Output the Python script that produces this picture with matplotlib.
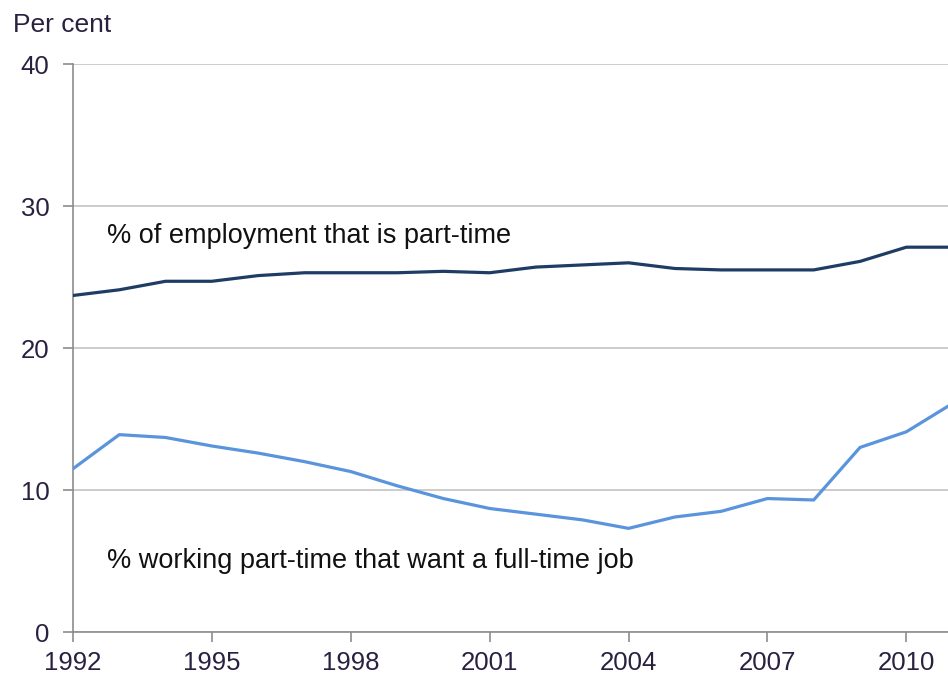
import matplotlib
matplotlib.use("Agg")
import matplotlib.pyplot as plt

plt.rcParams["font.family"] = ["Liberation Sans", "DejaVu Sans"]

years = list(range(1992, 2012))
part_time_share = [23.7, 24.1, 24.7, 24.7, 25.1, 25.3, 25.3, 25.3, 25.4, 25.3,
                   25.7, 25.85, 26.0, 25.6, 25.5, 25.5, 25.5, 26.1, 27.1, 27.1]
want_full_time = [11.5, 13.9, 13.7, 13.1, 12.6, 12.0, 11.3, 10.3, 9.4, 8.7,
                  8.3, 7.9, 7.3, 8.1, 8.5, 9.4, 9.3, 13.0, 14.1, 16.1]
x_ticks = [1992, 1995, 1998, 2001, 2004, 2007, 2010]
y_ticks = [0, 10, 20, 30, 40]

fig = plt.figure(figsize=(9.48, 6.78), dpi=100)
ax = fig.add_axes([0.077, 0.0678, 0.923, 0.8378])

ax.plot(years, part_time_share, color="#1f3c64", linewidth=2.3, zorder=3)
ax.plot(years, want_full_time, color="#5a94dc", linewidth=2.3, zorder=3)

ax.set_xlim(1992, 2010.9)
ax.set_ylim(0, 40)
ax.set_xticks(x_ticks)
ax.set_yticks(y_ticks)
ax.tick_params(axis="both", labelsize=18.5, colors="#8c8c8c", labelcolor="#2a2040",
               length=7, width=1.2, direction="out")
ax.tick_params(axis="y", pad=10)
ax.tick_params(axis="x", pad=7)
ax.yaxis.grid(True, color="#c4c4c4", linewidth=1.2)
ax.set_axisbelow(True)
for side in ("top", "right"):
    ax.spines[side].set_visible(False)
for side in ("left", "bottom"):
    ax.spines[side].set_color("#8c8c8c")
    ax.spines[side].set_linewidth(1.2)

ax.text(1992.73, 27.9, "% of employment that is part-time", fontsize=19.5, color="#111111",
        va="center")
ax.text(1992.73, 5.0, "% working part-time that want a full-time job", fontsize=19.5,
        color="#111111", va="center")
fig.text(0.014, 0.963, "Per cent", fontsize=19, color="#2a2040", va="center")

fig.savefig("out.png", dpi=100)
